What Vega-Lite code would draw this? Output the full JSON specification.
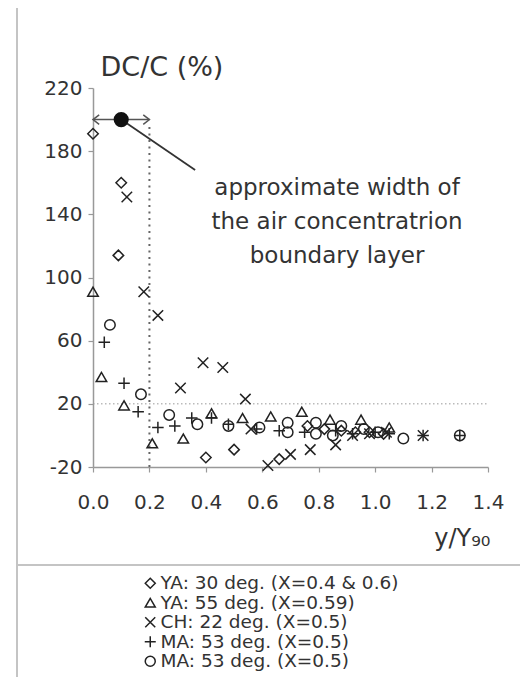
{
  "$schema": "https://vega.github.io/schema/vega-lite/v6.json",
  "autosize": "none",
  "width": 395,
  "height": 379,
  "padding": {"left": 93, "top": 88, "right": 32, "bottom": 210},
  "background": "white",
  "config": {"view": {"stroke": null}, "font": "DejaVu Sans"},
  "datasets": {
    "points": [
      {"series": "YA30", "x": 0.0, "y": 191},
      {"series": "YA30", "x": 0.10, "y": 160},
      {"series": "YA30", "x": 0.09, "y": 114},
      {"series": "YA30", "x": 0.40, "y": -14},
      {"series": "YA30", "x": 0.50, "y": -9},
      {"series": "YA30", "x": 0.66, "y": -15},
      {"series": "YA30", "x": 0.76, "y": 6},
      {"series": "YA30", "x": 0.82, "y": 4},
      {"series": "YA30", "x": 0.88, "y": 3},
      {"series": "YA30", "x": 0.93, "y": 2},
      {"series": "YA30", "x": 0.98, "y": 2},
      {"series": "YA30", "x": 1.03, "y": 1},
      {"series": "YA55", "x": 0.0, "y": 91},
      {"series": "YA55", "x": 0.03, "y": 37},
      {"series": "YA55", "x": 0.11, "y": 19},
      {"series": "YA55", "x": 0.21, "y": -5},
      {"series": "YA55", "x": 0.32, "y": -2},
      {"series": "YA55", "x": 0.42, "y": 14},
      {"series": "YA55", "x": 0.53, "y": 11},
      {"series": "YA55", "x": 0.63, "y": 12},
      {"series": "YA55", "x": 0.74, "y": 15},
      {"series": "YA55", "x": 0.84, "y": 10},
      {"series": "YA55", "x": 0.95, "y": 10},
      {"series": "YA55", "x": 1.05, "y": 5},
      {"series": "CH22", "x": 0.12, "y": 151},
      {"series": "CH22", "x": 0.18, "y": 91},
      {"series": "CH22", "x": 0.23, "y": 76},
      {"series": "CH22", "x": 0.31, "y": 30},
      {"series": "CH22", "x": 0.39, "y": 46},
      {"series": "CH22", "x": 0.46, "y": 43},
      {"series": "CH22", "x": 0.54, "y": 23},
      {"series": "CH22", "x": 0.56, "y": 4},
      {"series": "CH22", "x": 0.62, "y": -19},
      {"series": "CH22", "x": 0.70, "y": -12},
      {"series": "CH22", "x": 0.77, "y": -9},
      {"series": "CH22", "x": 0.86, "y": -6},
      {"series": "CH22", "x": 0.92, "y": 0},
      {"series": "CH22", "x": 0.98, "y": 1},
      {"series": "CH22", "x": 1.04, "y": 2},
      {"series": "CH22", "x": 1.17, "y": 0},
      {"series": "MA53p", "x": 0.04, "y": 59},
      {"series": "MA53p", "x": 0.11, "y": 33},
      {"series": "MA53p", "x": 0.16, "y": 15},
      {"series": "MA53p", "x": 0.23, "y": 5},
      {"series": "MA53p", "x": 0.29, "y": 6},
      {"series": "MA53p", "x": 0.35, "y": 11},
      {"series": "MA53p", "x": 0.42, "y": 11},
      {"series": "MA53p", "x": 0.48, "y": 7},
      {"series": "MA53p", "x": 0.58, "y": 4},
      {"series": "MA53p", "x": 0.66, "y": 3},
      {"series": "MA53p", "x": 0.75, "y": 2},
      {"series": "MA53p", "x": 0.86, "y": 3},
      {"series": "MA53p", "x": 0.92, "y": 1},
      {"series": "MA53p", "x": 1.00, "y": 2},
      {"series": "MA53p", "x": 1.05, "y": 1},
      {"series": "MA53p", "x": 1.17, "y": 0},
      {"series": "MA53p", "x": 1.30, "y": 0},
      {"series": "MA53o", "x": 0.06, "y": 70},
      {"series": "MA53o", "x": 0.17, "y": 26},
      {"series": "MA53o", "x": 0.27, "y": 13},
      {"series": "MA53o", "x": 0.37, "y": 7},
      {"series": "MA53o", "x": 0.48, "y": 6},
      {"series": "MA53o", "x": 0.59, "y": 5},
      {"series": "MA53o", "x": 0.69, "y": 8},
      {"series": "MA53o", "x": 0.69, "y": 2},
      {"series": "MA53o", "x": 0.79, "y": 8},
      {"series": "MA53o", "x": 0.79, "y": 1},
      {"series": "MA53o", "x": 0.85, "y": 0},
      {"series": "MA53o", "x": 0.88, "y": 6},
      {"series": "MA53o", "x": 0.96, "y": 4},
      {"series": "MA53o", "x": 1.01, "y": 2},
      {"series": "MA53o", "x": 1.10, "y": -2},
      {"series": "MA53o", "x": 1.30, "y": 0}
    ],
    "frame": [
      {"x": -0.2694, "x2": -0.2694, "y": 270.7, "y2": -153},
      {"x": -0.2694, "x2": 1.5134, "y": -82.05, "y2": -82.05}
    ],
    "hline": [{"x": 0, "x2": 1.4, "y": 20, "y2": 20}],
    "vline": [{"x": 0.2, "x2": 0.2, "y": -20, "y2": 198}],
    "arrow": [{"x": 0, "x2": 0.2, "y": 200, "y2": 200}],
    "leader": [{"x": 0.1, "x2": 0.362, "y": 200, "y2": 168}],
    "leftHead": [{"x": 0, "y": 200}],
    "rightHead": [{"x": 0.2, "y": 200}],
    "dot": [{"x": 0.1, "y": 200}],
    "note": [
      {"x": 0.865, "y": 156.6, "text": "approximate width of"},
      {"x": 0.865, "y": 135, "text": "the air concentratrion"},
      {"x": 0.865, "y": 113.5, "text": "boundary layer"}
    ]
  },
  "encoding": {
    "x": {
      "field": "x", "type": "quantitative",
      "scale": {"domain": [0, 1.4], "nice": false, "zero": false},
      "axis": {
        "values": [0, 0.2, 0.4, 0.6, 0.8, 1.0, 1.2, 1.4],
        "format": ".1f",
        "grid": false,
        "domainColor": "#999", "domainWidth": 1.5,
        "tickColor": "#999", "tickSize": 5, "tickWidth": 1.2,
        "labelFont": "DejaVu Sans", "labelFontSize": 20, "labelColor": "#333",
        "labelPadding": 20, "labelDx": 3, "labelFlush": false, "labelOverlap": false,
        "title": "y/Y₉₀",
        "titleFont": "DejaVu Sans", "titleFontSize": 24, "titleFontWeight": "normal", "titleColor": "#333",
        "titleAnchor": "end", "titleAlign": "right", "titleBaseline": "middle",
        "titleX": 397, "titleY": 71
      }
    },
    "y": {
      "field": "y", "type": "quantitative",
      "scale": {"domain": [-20, 220], "nice": false, "zero": false},
      "axis": {
        "values": [-20, 20, 60, 100, 140, 180, 220],
        "labelExpr": "toString(datum.value)",
        "grid": false,
        "domainColor": "#999", "domainWidth": 1.5,
        "tickColor": "#999", "tickSize": 5, "tickWidth": 1.2,
        "labelFont": "DejaVu Sans", "labelFontSize": 20, "labelColor": "#333",
        "labelPadding": 6, "labelOverlap": false,
        "title": "DC/C (%)",
        "titleFont": "DejaVu Sans", "titleFontSize": 27, "titleFontWeight": "normal", "titleColor": "#333",
        "titleAngle": 0, "titleAlign": "left", "titleBaseline": "middle",
        "titleX": 7, "titleY": -21
      }
    }
  },
  "layer": [
    {
      "data": {"name": "frame"},
      "mark": {"type": "rule", "color": "#c4c4c4", "strokeWidth": 2},
      "encoding": {"x2": {"field": "x2"}, "y2": {"field": "y2"}}
    },
    {
      "data": {"name": "hline"},
      "mark": {"type": "rule", "color": "#999", "strokeWidth": 1, "strokeDash": [1.5, 2.5]},
      "encoding": {"x2": {"field": "x2"}, "y2": {"field": "y2"}}
    },
    {
      "data": {"name": "vline"},
      "mark": {"type": "rule", "color": "#666", "strokeWidth": 2, "strokeDash": [2, 4.5]},
      "encoding": {"x2": {"field": "x2"}, "y2": {"field": "y2"}}
    },
    {
      "data": {"name": "arrow"},
      "mark": {"type": "rule", "color": "#555", "strokeWidth": 1.5},
      "encoding": {"x2": {"field": "x2"}, "y2": {"field": "y2"}}
    },
    {
      "data": {"name": "leader"},
      "mark": {"type": "rule", "color": "#333", "strokeWidth": 1.8},
      "encoding": {"x2": {"field": "x2"}, "y2": {"field": "y2"}}
    },
    {
      "data": {"name": "leftHead"},
      "mark": {"type": "point", "shape": "M1.3,-1L0,0L1.3,1", "filled": false, "stroke": "#555", "strokeWidth": 1.5, "size": 90, "opacity": 1},
      "encoding": {}
    },
    {
      "data": {"name": "rightHead"},
      "mark": {"type": "point", "shape": "M-1.3,-1L0,0L-1.3,1", "filled": false, "stroke": "#555", "strokeWidth": 1.5, "size": 90, "opacity": 1},
      "encoding": {}
    },
    {
      "data": {"name": "dot"},
      "mark": {"type": "point", "shape": "circle", "filled": true, "color": "#111", "size": 230, "opacity": 1},
      "encoding": {}
    },
    {
      "data": {"name": "note"},
      "mark": {"type": "text", "font": "DejaVu Sans", "fontSize": 23, "color": "#333", "align": "center", "baseline": "middle"},
      "encoding": {"text": {"field": "text"}}
    },
    {
      "data": {"name": "points"},
      "mark": {"type": "point", "filled": false, "stroke": "#222", "strokeWidth": 1.5, "size": 110, "opacity": 1},
      "encoding": {
        "shape": {
          "field": "series", "type": "nominal",
          "scale": {
            "domain": ["YA30", "YA55", "CH22", "MA53p", "MA53o"],
            "range": ["diamond", "triangle-up", "M-1,-1L1,1M-1,1L1,-1", "M-1.1,0L1.1,0M0,-1.1L0,1.1", "circle"]
          },
          "legend": {
            "orient": "none", "legendX": 48, "legendY": 486,
            "title": null, "padding": 0,
            "labelFont": "DejaVu Sans", "labelFontSize": 18.5, "labelColor": "#333",
            "labelOffset": 1, "labelLimit": 0, "rowPadding": 0.5,
            "symbolSize": 100, "symbolStrokeWidth": 1.5, "symbolStrokeColor": "#222", "symbolFillColor": "transparent",
            "labelExpr": "datum.label == 'YA30' ? 'YA: 30 deg. (X=0.4 & 0.6)' : datum.label == 'YA55' ? 'YA: 55 deg. (X=0.59)' : datum.label == 'CH22' ? 'CH: 22 deg. (X=0.5)' : 'MA: 53 deg. (X=0.5)'"
          }
        }
      }
    }
  ]
}
